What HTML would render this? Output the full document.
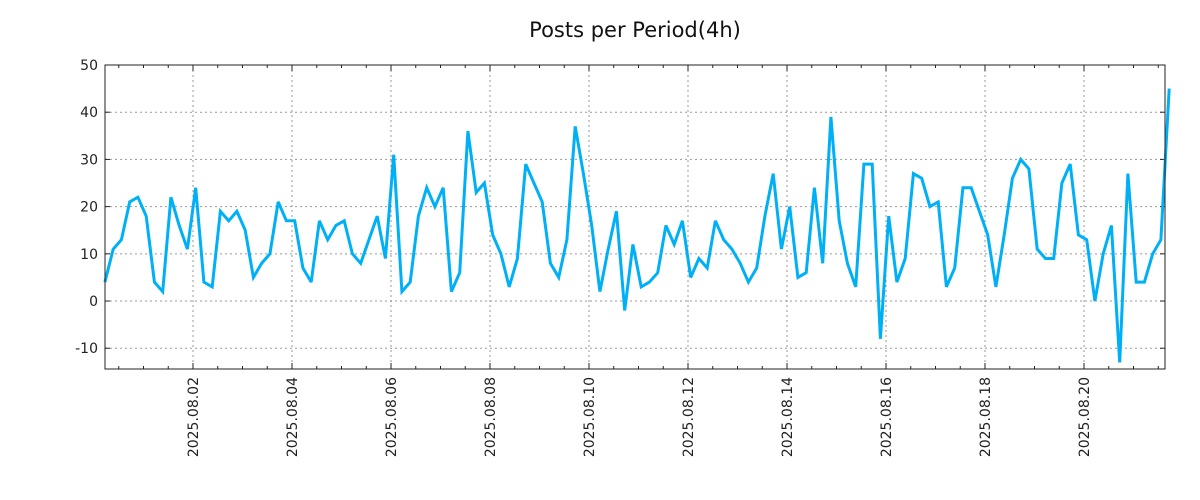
<!DOCTYPE html>
<html><head><meta charset="utf-8"><style>
html,body{margin:0;padding:0;background:#fff;}
svg{display:block;font-family:"DejaVu Sans","Liberation Sans",sans-serif;}
</style></head><body>
<svg id="chart" width="1200" height="500">
<text x="635" y="37" text-anchor="middle" font-size="21" fill="#111">Posts per Period(4h)</text>
<g id="grid"></g><g id="axes"></g><g id="series"></g>
<rect x="105" y="65" width="1060" height="304" fill="none" stroke="#222" stroke-width="1"/>
</svg>
<script>
const values = [4,11,13,21,22,18,4,2,22,16,11,24,4,3,19,17,19,15,5,8,10,21,17,17,7,4,17,13,16,17,10,8,13,18,9,31,2,4,18,24,20,24,2,6,36,23,25,14,10,3,9,29,25,21,8,5,13,37,27,16,2,11,19,-2,12,3,4,6,16,12,17,5,9,7,17,13,11,8,4,7,18,27,11,20,5,6,24,8,39,17,8,3,29,29,-8,18,4,9,27,26,20,21,3,7,24,24,19,14,3,14,26,30,28,11,9,9,25,29,14,13,0,10,16,-13,27,4,4,10,13,45];
const yTicks = [-10,0,10,20,30,40,50];
const xTickLabels = ["2025.08.02","2025.08.04","2025.08.06","2025.08.08","2025.08.10","2025.08.12","2025.08.14","2025.08.16","2025.08.18","2025.08.20"];
const startHour = -42.7; // hours relative to 2025.08.02 00:00
const periodHours = 4;

const NS="http://www.w3.org/2000/svg";
const L=105,R=1165,T=65,B=369,yMin=-14.4,yMax=50;
const pxPerHour=49.5/24, x0=193;
const xs=h=>x0+h*pxPerHour;
const ys=v=>B-(v-yMin)/(yMax-yMin)*(B-T);
function mk(tag,attrs,parent){const e=document.createElementNS(NS,tag);for(const k in attrs)e.setAttribute(k,attrs[k]);parent.appendChild(e);return e;}
const grid=document.getElementById('grid'),axes=document.getElementById('axes'),series=document.getElementById('series');

yTicks.forEach(v=>{
  const y=ys(v);
  if(v>yMin && v<yMax){
    const g=mk('line',{x1:L,x2:R,y1:y,y2:y,stroke:'#999','stroke-dasharray':'2,3','stroke-width':1},grid);
    
    
  }
  mk('line',{x1:L,x2:L+5,y1:y,y2:y,stroke:'#222'},axes);
  mk('line',{x1:R-5,x2:R,y1:y,y2:y,stroke:'#222'},axes);
  const t=mk('text',{x:98,y:y+5,'text-anchor':'end','font-size':14,fill:'#222'},axes);
  t.textContent=v;
  
  
});

xTickLabels.forEach((lab,i)=>{
  const x=xs(i*48);
  const g=mk('line',{x1:x,x2:x,y1:T,y2:B,stroke:'#999','stroke-dasharray':'2,3','stroke-width':1},grid);
  
  
  mk('line',{x1:x,x2:x,y1:B-6,y2:B,stroke:'#222'},axes);
  mk('line',{x1:x,x2:x,y1:T,y2:T+6,stroke:'#222'},axes);
  const t=mk('text',{x:0,y:0,'text-anchor':'end','font-size':14,fill:'#222',transform:`translate(${x+5},377) rotate(-90)`},axes);
  t.textContent=lab;
  
  
});
for(let h=-48;h<=480;h+=12){
  if(h%48===0)continue;
  const x=xs(h); if(x<=L||x>=R)continue;
  mk('line',{x1:x,x2:x,y1:B-3,y2:B,stroke:'#222'},axes);
  mk('line',{x1:x,x2:x,y1:T,y2:T+3,stroke:'#222'},axes);
}

const pts=values.map((v,i)=>xs(startHour+i*periodHours).toFixed(1)+','+ys(v).toFixed(1)).join(' ');
const pl=mk('polyline',{points:pts,fill:'none',stroke:'#00b0f6','stroke-width':3,'stroke-linejoin':'miter','stroke-miterlimit':3},series);


</script>
</body></html>
